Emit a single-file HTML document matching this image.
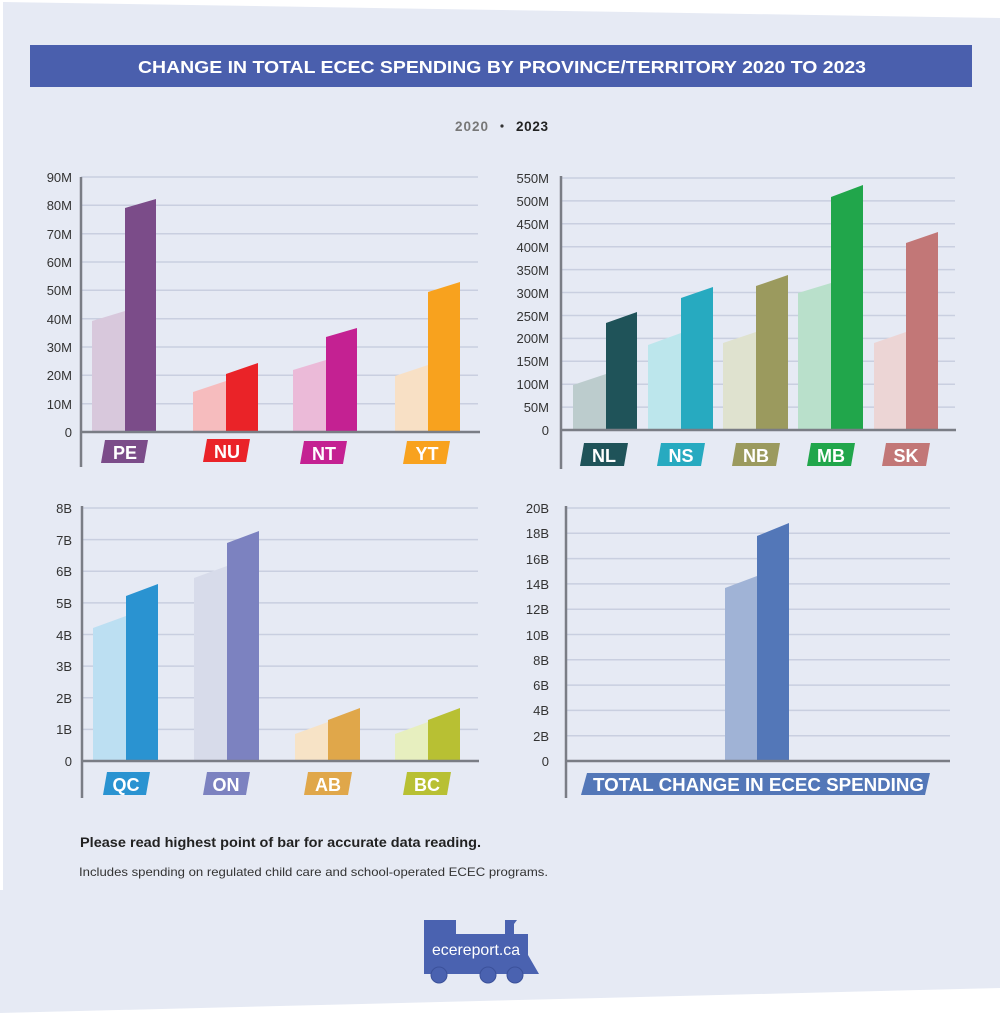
<!DOCTYPE html>
<html><head><meta charset="utf-8"><style>
html,body{margin:0;padding:0;background:#fff;}
svg{display:block;font-family:"Liberation Sans",sans-serif;}
.t{font-size:13px;fill:#333;text-anchor:end;}
.lb{font-size:18px;font-weight:bold;fill:#fff;text-anchor:middle;}
</style></head><body>
<svg width="1000" height="1021" viewBox="0 0 1000 1021" xmlns="http://www.w3.org/2000/svg">
<polygon points="3,2 1000,18 1000,988 0,1013 0,890 3,890" fill="#e6eaf4"/>
<rect x="30" y="45" width="942" height="42" fill="#4a5fad"/>
<text x="138" y="73" font-size="17.5" font-weight="bold" fill="#fff" textLength="728" lengthAdjust="spacingAndGlyphs">CHANGE IN TOTAL ECEC SPENDING BY PROVINCE/TERRITORY 2020 TO 2023</text>
<text x="455" y="131" font-size="13.5" font-weight="bold" fill="#777" textLength="33">2020</text>
<circle cx="502" cy="126" r="1.6" fill="#333"/>
<text x="516" y="131" font-size="13.5" font-weight="bold" fill="#222" textLength="32">2023</text>

<g stroke="#c9cfe0" stroke-width="1.5">
<line x1="81" x2="478" y1="177" y2="177"/><line x1="81" x2="478" y1="205.3" y2="205.3"/><line x1="81" x2="478" y1="233.7" y2="233.7"/><line x1="81" x2="478" y1="262" y2="262"/><line x1="81" x2="478" y1="290.3" y2="290.3"/><line x1="81" x2="478" y1="318.7" y2="318.7"/><line x1="81" x2="478" y1="347" y2="347"/><line x1="81" x2="478" y1="375.3" y2="375.3"/><line x1="81" x2="478" y1="403.7" y2="403.7"/>
<line x1="561" x2="955" y1="178" y2="178"/><line x1="561" x2="955" y1="200.9" y2="200.9"/><line x1="561" x2="955" y1="223.8" y2="223.8"/><line x1="561" x2="955" y1="246.7" y2="246.7"/><line x1="561" x2="955" y1="269.6" y2="269.6"/><line x1="561" x2="955" y1="292.5" y2="292.5"/><line x1="561" x2="955" y1="315.5" y2="315.5"/><line x1="561" x2="955" y1="338.4" y2="338.4"/><line x1="561" x2="955" y1="361.3" y2="361.3"/><line x1="561" x2="955" y1="384.2" y2="384.2"/><line x1="561" x2="955" y1="407.1" y2="407.1"/>
<line x1="82" x2="478" y1="508" y2="508"/><line x1="82" x2="478" y1="539.6" y2="539.6"/><line x1="82" x2="478" y1="571.3" y2="571.3"/><line x1="82" x2="478" y1="602.9" y2="602.9"/><line x1="82" x2="478" y1="634.5" y2="634.5"/><line x1="82" x2="478" y1="666.1" y2="666.1"/><line x1="82" x2="478" y1="697.8" y2="697.8"/><line x1="82" x2="478" y1="729.4" y2="729.4"/>
<line x1="566" x2="950" y1="508" y2="508"/><line x1="566" x2="950" y1="533.3" y2="533.3"/><line x1="566" x2="950" y1="558.6" y2="558.6"/><line x1="566" x2="950" y1="583.9" y2="583.9"/><line x1="566" x2="950" y1="609.2" y2="609.2"/><line x1="566" x2="950" y1="634.5" y2="634.5"/><line x1="566" x2="950" y1="659.8" y2="659.8"/><line x1="566" x2="950" y1="685.1" y2="685.1"/><line x1="566" x2="950" y1="710.4" y2="710.4"/><line x1="566" x2="950" y1="735.7" y2="735.7"/>
</g>

<g class="t">
<text x="72" y="182">90M</text><text x="72" y="210">80M</text><text x="72" y="239">70M</text><text x="72" y="267">60M</text><text x="72" y="295">50M</text><text x="72" y="324">40M</text><text x="72" y="352">30M</text><text x="72" y="380">20M</text><text x="72" y="409">10M</text><text x="72" y="437">0</text>
<text x="549" y="183">550M</text><text x="549" y="206">500M</text><text x="549" y="229">450M</text><text x="549" y="252">400M</text><text x="549" y="275">350M</text><text x="549" y="298">300M</text><text x="549" y="321">250M</text><text x="549" y="343">200M</text><text x="549" y="366">150M</text><text x="549" y="389">100M</text><text x="549" y="412">50M</text><text x="549" y="435">0</text>
<text x="72" y="513">8B</text><text x="72" y="545">7B</text><text x="72" y="576">6B</text><text x="72" y="608">5B</text><text x="72" y="640">4B</text><text x="72" y="671">3B</text><text x="72" y="703">2B</text><text x="72" y="734">1B</text><text x="72" y="766">0</text>
<text x="549" y="513">20B</text><text x="549" y="538">18B</text><text x="549" y="564">16B</text><text x="549" y="589">14B</text><text x="549" y="614">12B</text><text x="549" y="640">10B</text><text x="549" y="665">8B</text><text x="549" y="690">6B</text><text x="549" y="715">4B</text><text x="549" y="741">2B</text><text x="549" y="766">0</text>
</g>

<polygon points="92,432 92,321 125,311 125,432" fill="#d8c8dc"/><polygon points="125,432 125,208 156,199 156,432" fill="#7b4c89"/>
<polygon points="193,432 193,392 226,381 226,432" fill="#f6bcbe"/><polygon points="226,432 226,374 258,363 258,432" fill="#ea2328"/>
<polygon points="293,432 293,370 326,360 326,432" fill="#ebbad8"/><polygon points="326,432 326,337 357,328 357,432" fill="#c42192"/>
<polygon points="395,432 395,376 428,365 428,432" fill="#f8e0c5"/><polygon points="428,432 428,292 460,282 460,432" fill="#f8a21e"/>
<polygon points="573,430 573,385 606,374 606,430" fill="#bccccd"/><polygon points="606,430 606,323 637,312 637,430" fill="#1f5359"/>
<polygon points="648,430 648,345 681,333 681,430" fill="#bce6ec"/><polygon points="681,430 681,298 713,287 713,430" fill="#27aac0"/>
<polygon points="723,430 723,343 756,332 756,430" fill="#dfe2cf"/><polygon points="756,430 756,286 788,275 788,430" fill="#9b9a5e"/>
<polygon points="798,430 798,293 831,283 831,430" fill="#b9e0cb"/><polygon points="831,430 831,197 863,185 863,430" fill="#21a64b"/>
<polygon points="874,430 874,343 906,332 906,430" fill="#ecd5d5"/><polygon points="906,430 906,243 938,232 938,430" fill="#c27777"/>
<polygon points="93,761 93,628 126,616 126,761" fill="#bcdff2"/><polygon points="126,761 126,596 158,584 158,761" fill="#2a93d1"/>
<polygon points="194,761 194,578 227,566 227,761" fill="#d7dbea"/><polygon points="227,761 227,543 259,531 259,761" fill="#7c82c0"/>
<polygon points="295,761 295,734 328,722 328,761" fill="#f7e3c6"/><polygon points="328,761 328,720 360,708 360,761" fill="#e0a74a"/>
<polygon points="395,761 395,734 428,722 428,761" fill="#e7efbf"/><polygon points="428,761 428,720 460,708 460,761" fill="#b8c033"/>
<polygon points="725,761 725,588 757,576 757,761" fill="#a0b3d6"/><polygon points="757,761 757,536 789,523 789,761" fill="#5377b8"/>

<g stroke="#7a7d85" stroke-width="2.5" fill="none">
<polyline points="81,177 81,467"/><line x1="80" x2="480" y1="432" y2="432"/>
<polyline points="561,176 561,469"/><line x1="560" x2="956" y1="430" y2="430"/>
<polyline points="82,506 82,798"/><line x1="81" x2="479" y1="761" y2="761"/>
<polyline points="566,506 566,798"/><line x1="565" x2="950" y1="761" y2="761"/>
</g>

<polygon points="105,440 148,440 144,463 101,463" fill="#7b4c89"/><text class="lb" x="125" y="459">PE</text>
<polygon points="207,439 250,439 246,462 203,462" fill="#ea2328"/><text class="lb" x="227" y="458">NU</text>
<polygon points="304,441 347,441 343,464 300,464" fill="#c42192"/><text class="lb" x="324" y="460">NT</text>
<polygon points="407,441 450,441 446,464 403,464" fill="#f8a21e"/><text class="lb" x="427" y="460">YT</text>
<polygon points="584,443 628,443 624,466 580,466" fill="#1f5359"/><text class="lb" x="604" y="462">NL</text>
<polygon points="661,443 705,443 701,466 657,466" fill="#27aac0"/><text class="lb" x="681" y="462">NS</text>
<polygon points="736,443 780,443 776,466 732,466" fill="#9b9a5e"/><text class="lb" x="756" y="462">NB</text>
<polygon points="811,443 855,443 851,466 807,466" fill="#21a64b"/><text class="lb" x="831" y="462">MB</text>
<polygon points="886,443 930,443 926,466 882,466" fill="#c27777"/><text class="lb" x="906" y="462">SK</text>
<polygon points="107,772 150,772 146,795 103,795" fill="#2a93d1"/><text class="lb" x="126" y="791">QC</text>
<polygon points="207,772 250,772 246,795 203,795" fill="#7c82c0"/><text class="lb" x="226" y="791">ON</text>
<polygon points="308,772 352,772 348,795 304,795" fill="#e0a74a"/><text class="lb" x="328" y="791">AB</text>
<polygon points="407,772 451,772 447,795 403,795" fill="#b8c033"/><text class="lb" x="427" y="791">BC</text>
<polygon points="587,773 930,773 925,795 581,795" fill="#5377b8"/><text class="lb" x="593" y="791" style="text-anchor:start" textLength="331" lengthAdjust="spacingAndGlyphs">TOTAL CHANGE IN ECEC SPENDING</text>

<text x="80" y="847" font-size="13.5" font-weight="bold" fill="#222" textLength="401" lengthAdjust="spacingAndGlyphs">Please read highest point of bar for accurate data reading.</text>
<text x="79" y="876" font-size="12" fill="#333" textLength="469" lengthAdjust="spacingAndGlyphs">Includes spending on regulated child care and school-operated ECEC programs.</text>

<g fill="#4a62b0">
<polygon points="424,920 456,920 456,934 505,934 505,920 517,920 514,924 514,934 528,934 528,955 539,974 424,974"/>
<circle cx="439" cy="975" r="8" stroke="#3b519a" stroke-width="1"/><circle cx="488" cy="975" r="8" stroke="#3b519a" stroke-width="1"/><circle cx="515" cy="975" r="8" stroke="#3b519a" stroke-width="1"/>
</g>
<text x="432" y="955" font-size="16" fill="#fff" textLength="88" lengthAdjust="spacingAndGlyphs">ecereport.ca</text>
</svg>
</body></html>
